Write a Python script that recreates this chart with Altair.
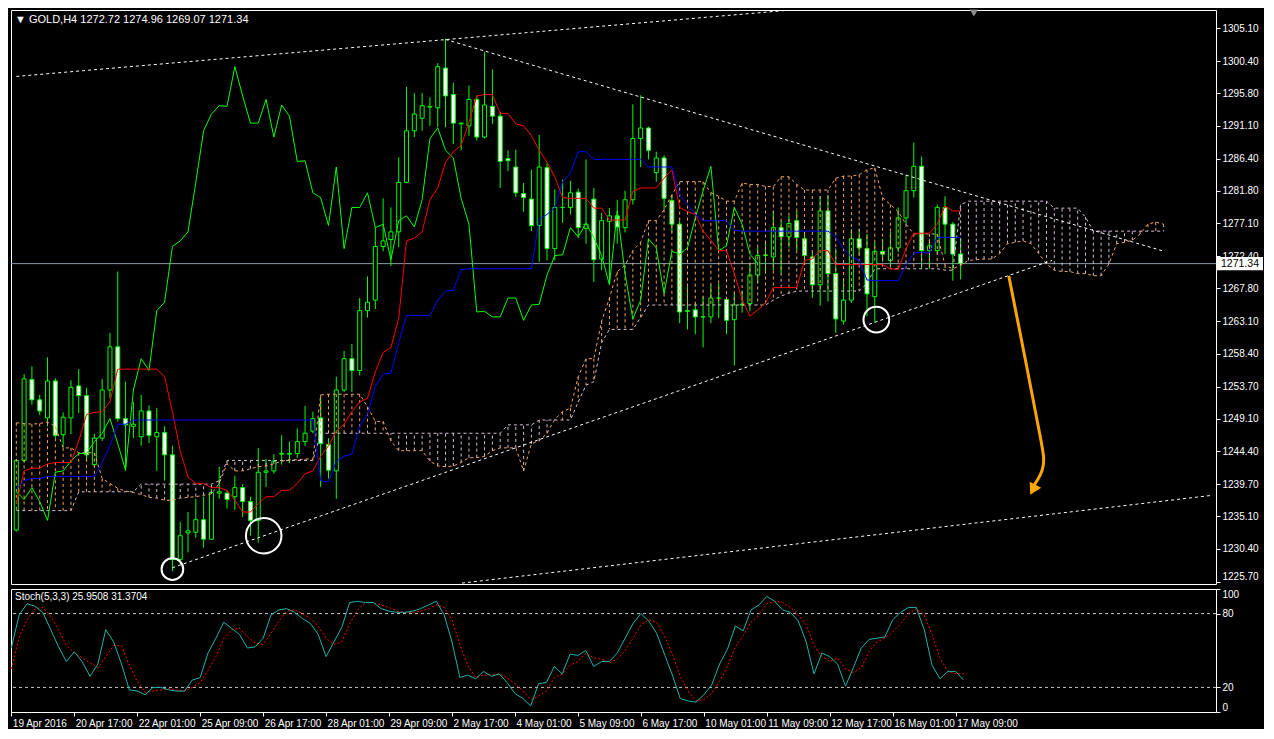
import altair as alt
import pandas as pd

# ---------------- data ----------------
open_ = [1233.1, 1243.1, 1254.7, 1251.8, 1249.2, 1254.5, 1246.8, 1249.2, 1253.8, 1252.4,
         1242.5, 1246.3, 1253.2, 1259.4, 1249.1, 1248.0, 1246.5, 1250.2, 1246.5, 1247.1,
         1243.9, 1228.9, 1232.7, 1232.8, 1234.6, 1231.8, 1238.4, 1238.4, 1237.9, 1239.2,
         1237.2, 1234.5, 1241.4, 1241.6, 1244.0, 1244.0, 1244.1, 1245.8, 1247.3, 1249.2,
         1245.4, 1241.6, 1253.2, 1257.7, 1256.0, 1264.6, 1266.1, 1273.8, 1274.8, 1275.9,
         1283.0, 1290.4, 1292.2, 1293.8, 1293.7, 1299.4, 1295.6, 1291.4, 1291.1, 1294.9,
         1289.5, 1293.9, 1292.5, 1286.4, 1285.2, 1281.4, 1280.6, 1276.8, 1285.1, 1273.5,
         1279.4, 1279.4, 1281.6, 1276.4, 1280.6, 1272.0, 1277.4, 1278.2, 1276.5, 1280.5,
         1289.3, 1290.8, 1284.4, 1286.5, 1280.4, 1277.0, 1264.6, 1264.7, 1263.7, 1263.7,
         1266.4, 1266.2, 1263.3, 1265.4, 1265.6, 1269.7, 1272.5, 1272.3, 1276.5, 1275.2,
         1277.5, 1274.9, 1272.3, 1268.3, 1278.9, 1269.9, 1263.1, 1266.1, 1274.9, 1273.5,
         1266.6, 1273.1, 1271.8, 1273.6, 1277.9, 1281.8, 1285.3, 1273.2, 1273.2, 1279.4,
         1277.0, 1272.72]
high_ = [1243.3, 1255.5, 1256.6, 1252.5, 1257.9, 1254.9, 1250.0, 1254.6, 1256.2, 1253.5,
         1246.9, 1254.8, 1261.4, 1270.2, 1254.4, 1251.5, 1252.5, 1251.0, 1250.6, 1248.0,
         1245.2, 1234.3, 1235.7, 1237.6, 1237.9, 1239.0, 1242.2, 1238.8, 1240.9, 1239.7,
         1237.9, 1244.9, 1243.3, 1244.0, 1246.7, 1245.8, 1247.7, 1250.9, 1250.1, 1252.1,
         1246.3, 1255.1, 1258.8, 1259.8, 1266.4, 1269.5, 1276.6, 1280.7, 1279.4, 1286.6,
         1296.7, 1295.8, 1295.8, 1295.2, 1300.1, 1303.6, 1297.3, 1291.6, 1296.9, 1295.5,
         1301.7, 1299.2, 1293.1, 1287.6, 1287.7, 1282.9, 1284.8, 1289.8, 1285.8, 1282.0,
         1283.4, 1283.2, 1282.1, 1286.3, 1282.2, 1278.6, 1279.3, 1280.5, 1281.8, 1294.2,
         1295.5, 1291.0, 1287.4, 1286.9, 1281.2, 1277.5, 1268.0, 1265.7, 1266.6, 1268.3,
         1268.5, 1266.6, 1267.1, 1267.5, 1271.3, 1273.7, 1274.6, 1278.9, 1277.5, 1278.2,
         1278.9, 1275.9, 1273.0, 1281.0, 1281.2, 1273.5, 1269.2, 1276.3, 1276.3, 1275.6,
         1274.4, 1274.9, 1275.9, 1279.4, 1284.1, 1288.7, 1286.7, 1274.9, 1279.8, 1281.0,
         1277.3, 1274.96]
low_ = [1232.9, 1242.8, 1251.1, 1249.6, 1248.0, 1246.3, 1245.0, 1246.9, 1249.9, 1243.0,
        1242.2, 1245.9, 1252.0, 1248.7, 1241.6, 1246.3, 1245.2, 1245.6, 1241.6, 1240.2,
        1227.2, 1228.2, 1229.9, 1232.0, 1230.6, 1231.7, 1237.6, 1236.2, 1236.0, 1235.0,
        1232.3, 1231.3, 1239.3, 1241.2, 1242.5, 1242.7, 1243.5, 1245.2, 1247.0, 1239.3,
        1240.5, 1237.6, 1252.9, 1252.9, 1255.3, 1263.6, 1264.8, 1273.1, 1271.0, 1273.7,
        1282.9, 1289.5, 1290.4, 1291.1, 1290.9, 1290.9, 1288.5, 1287.6, 1289.7, 1289.0,
        1289.3, 1291.4, 1282.2, 1284.6, 1280.9, 1278.8, 1276.0, 1271.6, 1271.8, 1271.8,
        1277.2, 1278.4, 1275.0, 1274.2, 1268.7, 1270.4, 1268.5, 1274.2, 1275.8, 1279.8,
        1285.2, 1286.3, 1283.1, 1279.1, 1275.8, 1262.8, 1261.9, 1261.2, 1259.3, 1262.8,
        1263.5, 1261.2, 1256.7, 1264.3, 1264.5, 1268.5, 1269.9, 1270.4, 1269.9, 1273.7,
        1273.2, 1271.6, 1266.4, 1265.3, 1265.9, 1261.4, 1262.6, 1265.7, 1272.5, 1263.8,
        1262.9, 1271.6, 1271.0, 1273.0, 1277.0, 1280.8, 1270.6, 1270.6, 1272.7, 1272.7,
        1268.9, 1269.07]
close_ = [1243.1, 1254.8, 1251.8, 1250.2, 1254.5, 1246.7, 1249.3, 1253.6, 1252.4, 1243.9,
          1246.3, 1253.2, 1259.4, 1249.1, 1248.2, 1248.3, 1250.2, 1246.7, 1247.1, 1243.9,
          1228.9, 1232.3, 1233.0, 1234.6, 1231.8, 1238.5, 1238.6, 1237.5, 1239.2, 1237.2,
          1234.5, 1241.4, 1241.6, 1243.0, 1244.1, 1244.1, 1245.8, 1247.0, 1249.1, 1245.5,
          1241.7, 1253.2, 1257.7, 1256.0, 1264.6, 1265.8, 1273.8, 1274.6, 1275.9, 1283.0,
          1290.4, 1292.8, 1294.0, 1293.9, 1299.6, 1295.4, 1291.5, 1291.5, 1294.9, 1289.5,
          1294.1, 1292.5, 1286.0, 1286.1, 1281.5, 1280.8, 1276.8, 1285.2, 1273.5, 1279.4,
          1279.4, 1281.5, 1276.5, 1277.0, 1271.9, 1277.5, 1278.2, 1276.6, 1280.5, 1289.3,
          1290.8, 1287.6, 1286.5, 1280.7, 1277.0, 1264.4, 1264.5, 1263.7, 1263.7, 1266.4,
          1266.4, 1263.2, 1265.4, 1265.5, 1269.7, 1272.5, 1272.6, 1276.5, 1275.2, 1277.1,
          1275.1, 1272.5, 1268.3, 1278.9, 1269.9, 1263.4, 1266.1, 1274.9, 1273.6, 1267.0,
          1273.1, 1272.7, 1273.6, 1277.9, 1281.8, 1285.3, 1273.2, 1273.9, 1279.4, 1277.0,
          1272.7, 1271.34]

tenkan = [1236.9, 1241.6, 1242.0, 1242.0, 1242.6, 1242.8, 1242.8, 1242.8, 1245.9, 1249.7,
          1250.0, 1250.1, 1251.5, 1256.2, 1256.2, 1256.2, 1256.2, 1256.2, 1256.2, 1255.1,
          1250.1, 1244.5, 1240.7, 1239.8, 1239.8, 1239.2, 1239.2, 1238.8, 1237.4, 1235.7,
          1235.7, 1236.9, 1237.9, 1237.9, 1238.8, 1238.8, 1239.8, 1241.2, 1241.6, 1243.7,
          1245.2, 1247.3, 1248.3, 1250.1, 1251.5, 1252.0, 1255.8, 1258.6, 1259.3, 1263.5,
          1274.6, 1275.0, 1275.9, 1280.5, 1282.2, 1285.9, 1287.4, 1288.3, 1291.6, 1295.4,
          1295.6, 1295.6, 1292.9, 1292.9, 1291.4, 1291.1, 1289.7, 1287.6, 1285.9, 1283.8,
          1280.8, 1280.7, 1280.7, 1280.7, 1279.3, 1279.3, 1277.6, 1277.6, 1277.6, 1281.7,
          1282.2, 1282.2, 1282.2, 1283.6, 1284.8, 1279.4, 1278.8, 1278.4, 1276.0, 1274.7,
          1273.2, 1273.2, 1269.9, 1266.2, 1263.8, 1264.7, 1265.7, 1267.9, 1267.9, 1267.9,
          1267.9, 1271.8, 1272.0, 1273.2, 1273.2, 1271.2, 1271.2, 1271.2, 1271.2, 1271.2,
          1271.2, 1271.2, 1270.6, 1270.5, 1273.5, 1275.7, 1275.7, 1275.7, 1277.0, 1279.6,
          1278.9, 1278.9]
kijun = [1239.0, 1240.2, 1240.5, 1240.5, 1240.8, 1240.8, 1240.8, 1240.8, 1240.8, 1240.8,
         1240.8, 1242.8, 1245.2, 1248.3, 1248.3, 1248.9, 1248.9, 1248.9, 1248.9, 1248.9,
         1248.9, 1248.9, 1248.9, 1248.9, 1248.9, 1248.9, 1248.9, 1248.9, 1248.9, 1248.9,
         1248.9, 1248.9, 1248.9, 1248.9, 1248.9, 1248.9, 1248.9, 1248.9, 1248.9, 1240.2,
         1240.0, 1243.0, 1243.7, 1244.0, 1248.0, 1249.7, 1253.7, 1255.5, 1255.6, 1260.0,
         1263.9, 1263.9, 1263.9, 1263.9, 1266.1, 1267.4, 1267.5, 1270.5, 1270.6, 1270.6,
         1270.6, 1270.6, 1270.6, 1270.6, 1270.6, 1270.6, 1270.6, 1277.7, 1278.4, 1279.4,
         1283.1, 1284.3, 1287.4, 1287.4, 1286.3, 1286.3, 1286.3, 1286.3, 1286.3, 1286.3,
         1286.3, 1285.2, 1285.2, 1285.2, 1285.2, 1281.2, 1279.8, 1278.4, 1277.5, 1277.5,
         1277.5, 1277.5, 1276.1, 1276.0, 1276.0, 1276.0, 1276.0, 1276.0, 1276.0, 1276.0,
         1276.0, 1276.0, 1276.0, 1276.0, 1276.0, 1275.2, 1273.5, 1272.3, 1271.8, 1269.0,
         1268.9, 1268.9, 1268.9, 1268.9, 1271.1, 1272.9, 1272.9, 1272.9, 1275.1, 1275.1,
         1275.1, 1275.1]
senkou_a = [1248.5, 1248.4, 1248.3, 1248.4, 1248.6, 1248.0, 1244.9, 1244.9, 1244.2, 1244.2,
            1244.2, 1240.5, 1239.8, 1239.1, 1238.7, 1238.5, 1238.2, 1237.8, 1237.7, 1237.4,
            1237.4, 1237.7, 1237.8, 1237.9, 1238.1, 1238.3, 1239.8, 1242.6, 1241.6, 1241.6,
            1241.9, 1242.2, 1242.3, 1242.6, 1243.0, 1243.2, 1243.2, 1243.3, 1243.3, 1252.5,
            1252.6, 1252.6, 1252.6, 1252.6, 1252.6, 1250.8, 1248.7, 1248.7, 1245.9, 1244.5,
            1244.5, 1244.5, 1244.5, 1243.0, 1242.3, 1242.2, 1242.3, 1242.8, 1243.5, 1243.5,
            1243.7, 1244.5, 1244.9, 1244.9, 1244.9, 1241.6, 1245.5, 1245.9, 1247.0, 1249.0,
            1250.1, 1250.6, 1255.1, 1257.7, 1257.7, 1263.1, 1266.4, 1270.2, 1271.1, 1273.2,
            1274.4, 1277.5, 1277.5, 1279.1, 1281.2, 1283.1, 1283.1, 1283.1, 1283.1, 1281.5,
            1281.0, 1280.3, 1280.3, 1282.9, 1282.7, 1282.7, 1282.4, 1282.4, 1283.8, 1283.8,
            1282.7, 1281.9, 1281.9, 1281.9, 1281.9, 1283.6, 1283.9, 1283.9, 1284.1, 1284.8,
            1285.1, 1280.8, 1279.8, 1278.8, 1277.0, 1275.6, 1275.6, 1275.6, 1275.6, 1271.1,
            1270.6, 1271.1, 1271.8, 1271.9, 1272.0, 1272.0, 1272.8, 1274.2, 1274.4, 1274.6,
            1274.2, 1272.8, 1271.3, 1270.4, 1270.2, 1270.2, 1269.9, 1269.9, 1269.6, 1269.6,
            1271.3, 1274.2, 1274.4, 1274.7, 1275.6, 1277.0, 1277.3, 1277.0]
senkou_b = [1235.9, 1235.9, 1235.9, 1235.9, 1235.9, 1235.9, 1235.9, 1235.9, 1238.6, 1238.6,
            1238.6, 1238.6, 1238.6, 1238.6, 1238.6, 1238.6, 1239.7, 1239.7, 1239.7, 1239.7,
            1239.7, 1239.7, 1239.7, 1239.7, 1239.7, 1239.7, 1240.2, 1243.1, 1243.1, 1243.1,
            1243.1, 1243.1, 1243.1, 1243.1, 1243.1, 1243.1, 1243.1, 1243.1, 1243.1, 1247.0,
            1247.0, 1247.0, 1247.0, 1247.0, 1247.0, 1247.0, 1247.0, 1247.0, 1247.0, 1247.0,
            1247.0, 1247.0, 1247.0, 1247.0, 1247.0, 1247.0, 1247.0, 1247.0, 1247.0, 1247.0,
            1247.0, 1247.0, 1247.0, 1248.2, 1248.2, 1248.2, 1248.2, 1248.9, 1248.9, 1248.9,
            1248.9, 1248.9, 1251.5, 1253.9, 1254.4, 1260.0, 1261.9, 1261.9, 1261.9, 1261.9,
            1263.6, 1265.4, 1265.4, 1265.4, 1265.4, 1265.4, 1265.4, 1265.4, 1265.4, 1265.4,
            1265.4, 1265.4, 1265.4, 1265.4, 1265.4, 1265.4, 1265.4, 1266.1, 1266.7, 1267.1,
            1267.4, 1267.4, 1267.4, 1267.4, 1267.4, 1267.4, 1267.4, 1267.4, 1267.4, 1268.5,
            1270.6, 1270.6, 1270.6, 1270.6, 1270.6, 1270.6, 1270.6, 1270.6, 1270.6, 1270.4,
            1270.4, 1279.8, 1280.3, 1280.3, 1280.3, 1280.3, 1280.3, 1280.3, 1280.3, 1280.3,
            1280.3, 1280.3, 1280.3, 1279.3, 1279.3, 1279.3, 1279.3, 1278.0, 1276.0, 1276.0,
            1276.0, 1276.0, 1276.0, 1276.0, 1276.0, 1276.0, 1276.0, 1276.0]

stoch_k = [52, 79, 88, 86, 81, 67, 53, 41, 49, 41, 29, 39, 67, 57, 39, 18, 17, 14, 20, 20,
           18, 17, 17, 26, 28, 48, 60, 73, 68, 63, 52, 53, 60, 79, 83, 84, 81, 76, 72, 63,
           45, 57, 69, 89, 90, 89, 89, 84, 82, 81, 81, 82, 84, 87, 90, 79, 57, 28, 30, 27,
           33, 29, 31, 24, 15, 11, 5, 23, 24, 37, 31, 47, 46, 50, 37, 41, 41, 48, 60, 72,
           80, 74, 64, 47, 30, 11, 9, 8, 14, 22, 39, 51, 70, 66, 83, 87, 94, 90, 83, 81,
           74, 57, 31, 48, 45, 39, 21, 36, 52, 59, 60, 61, 75, 81, 85, 85, 67, 38, 27, 33,
           33, 25.95]
stoch_d = [35, 61, 75, 84, 85, 78, 67, 54, 48, 44, 40, 36, 45, 54, 54, 38, 25, 16, 17, 18,
           19, 18, 17, 20, 24, 34, 45, 60, 67, 68, 61, 56, 55, 64, 74, 82, 83, 80, 76, 70,
           60, 55, 57, 72, 83, 89, 89, 87, 85, 82, 81, 81, 82, 84, 87, 85, 75, 55, 38, 28,
           30, 30, 31, 28, 23, 17, 10, 13, 17, 28, 31, 38, 41, 48, 44, 43, 40, 43, 50, 60,
           71, 75, 73, 62, 47, 29, 17, 9, 10, 15, 25, 37, 53, 62, 73, 79, 88, 90, 89, 85,
           79, 71, 54, 45, 41, 44, 35, 32, 36, 49, 57, 60, 65, 72, 80, 84, 79, 63, 44, 33,
           31, 31.37]

price_ticks = [1225.70, 1230.40, 1235.10, 1239.70, 1244.40, 1249.10, 1253.70, 1258.40, 1263.10,
               1267.80, 1272.40, 1277.10, 1281.80, 1286.40, 1291.10, 1295.80, 1300.40, 1305.10]
date_labels = ["19 Apr 2016", "20 Apr 17:00", "22 Apr 01:00", "25 Apr 09:00", "26 Apr 17:00",
               "28 Apr 01:00", "29 Apr 09:00", "2 May 17:00", "4 May 01:00", "5 May 09:00",
               "6 May 17:00", "10 May 01:00", "11 May 09:00", "12 May 17:00", "16 May 01:00",
               "17 May 09:00"]
stoch_ticks = [0, 20, 80, 100]
stoch_levels = [20, 80]

# drawn objects (bar index, price)
trend_names = ["top", "top", "resist", "resist", "support", "support", "low", "low"]
trend_bars = [0.0, 100.0, 55.0, 146.8, 20.0, 132.7, 57.1, 153.3]
trend_prices = [1298.2, 1307.8, 1303.5, 1273.2, 1227.7, 1271.8, 1225.5, 1238.1]
circle_bars = [20.0, 31.7, 110.2]
circle_prices = [1227.5, 1232.3, 1263.3]
arrow_bars = [127.2, 129.3, 131.3, 131.75, 131.5, 130.9, 130.5]
arrow_prices = [1269.4, 1257.6, 1245.9, 1243.4, 1241.6, 1240.4, 1239.7]
arrow_tip_bar = [130.25]
arrow_tip_price = [1238.9]
shift_bar = [122.7]
title_text = "\u25bc GOLD,H4  1272.72 1274.96 1269.07 1271.34"
stoch_text = "Stoch(5,3,3) 25.9508 31.3704"

# ---------------- styling ----------------
W = 1205
H_MAIN = 574
H_STOCH = 123
FONT = "Liberation Sans"
LIME = "#00FF00"
SANDY = "#F4A460"
THISTLE = "#D8BFD8"
ORANGE = "#FFA500"
X_DOMAIN = [-0.04, 153.08]
Y_DOMAIN = [1225.37, 1307.73]

n = len(close_)
candles = pd.DataFrame({"bar": list(range(n)), "open": open_, "high": high_,
                        "low": low_, "close": close_})
candles["dir"] = ["bull" if c >= o else "bear" for o, c in zip(open_, close_)]
ind = pd.DataFrame({"bar": list(range(n)), "tenkan": tenkan, "kijun": kijun})
cloud = pd.DataFrame({"bar": list(range(len(senkou_a))), "a": senkou_a, "b": senkou_b})
cloud["hatch"] = [SANDY if a >= b else THISTLE for a, b in zip(senkou_a, senkou_b)]
chikou = pd.DataFrame({"bar": [i - 26 for i in range(26, n)], "price": close_[26:]})
trend = pd.DataFrame({"line": trend_names, "bar": trend_bars, "price": trend_prices})
circles = pd.DataFrame({"bar": circle_bars, "price": circle_prices})
arrow = pd.DataFrame({"seq": list(range(len(arrow_bars))), "bar": arrow_bars, "price": arrow_prices})
tip = pd.DataFrame({"bar": arrow_tip_bar, "price": arrow_tip_price})
last = pd.DataFrame({"price": [close_[-1]], "label": [f"{close_[-1]:.2f}"]})
stoch = pd.DataFrame({"bar": list(range(n)), "k": stoch_k, "d": stoch_d})

xs = alt.Scale(domain=X_DOMAIN, nice=False, zero=False)
ys = alt.Scale(domain=Y_DOMAIN, nice=False, zero=False)
price_axis = alt.Axis(values=price_ticks, format=".2f", orient="right", labelColor="white",
                      tickColor="white", tickSize=4, domain=False, grid=False, labelFont=FONT,
                      labelFontSize=10, title=None, labelPadding=2, labelFlush=5)


def X(f):
    return alt.X(f, type="quantitative", scale=xs, axis=None)


def Y(f):
    return alt.Y(f, type="quantitative", scale=ys, axis=price_axis)


layers = []
layers.append(alt.Chart(last).mark_rule(color="#8899AA", strokeWidth=1).encode(y=Y("price")))
layers.append(alt.Chart(candles).mark_rule(color=LIME, strokeWidth=1, clip=True)
              .encode(x=X("bar"), y=Y("low"), y2="high"))
layers.append(alt.Chart(candles).mark_bar(size=4, stroke=LIME, strokeWidth=1, clip=True)
              .encode(x=X("bar"), y=Y("open"), y2="close",
                      fill=alt.Fill("dir:N", scale=alt.Scale(domain=["bull", "bear"],
                                                             range=["#000000", "#FFFFFF"]),
                                    legend=None)))
layers.append(alt.Chart(cloud).mark_rule(strokeDash=[3, 3], strokeWidth=1, clip=True)
              .encode(x=X("bar"), y=Y("a"), y2="b", color=alt.Color("hatch:N", scale=None)))
layers.append(alt.Chart(cloud).mark_line(color=SANDY, strokeDash=[3, 3], strokeWidth=1, clip=True)
              .encode(x=X("bar"), y=Y("a")))
layers.append(alt.Chart(cloud).mark_line(color=THISTLE, strokeDash=[3, 3], strokeWidth=1, clip=True)
              .encode(x=X("bar"), y=Y("b")))
layers.append(alt.Chart(chikou).mark_line(color=LIME, strokeWidth=1, clip=True)
              .encode(x=X("bar"), y=Y("price")))
layers.append(alt.Chart(ind).mark_line(color="#FF0000", strokeWidth=1, clip=True)
              .encode(x=X("bar"), y=Y("tenkan")))
layers.append(alt.Chart(ind).mark_line(color="#0000FF", strokeWidth=1, clip=True)
              .encode(x=X("bar"), y=Y("kijun")))
layers.append(alt.Chart(trend).mark_line(color="white", strokeDash=[3, 3], strokeWidth=1, clip=True)
              .encode(x=X("bar"), y=Y("price"), detail="line:N"))
for i, sz in enumerate([470, 1260, 660]):
    layers.append(alt.Chart(circles.iloc[[i]]).mark_point(shape="circle", filled=False, color="white",
                                                          strokeWidth=2, opacity=1, size=sz)
                  .encode(x=X("bar"), y=Y("price")))
layers.append(alt.Chart(arrow).mark_line(color=ORANGE, strokeWidth=3, strokeCap="round",
                                         strokeJoin="round", interpolate="basis")
              .encode(x=X("bar"), y=Y("price"), order="seq:Q"))
layers.append(alt.Chart(tip).mark_point(shape="triangle-down", filled=True, color=ORANGE,
                                        size=170, angle=28, opacity=1)
              .encode(x=X("bar"), y=Y("price")))
layers.append(alt.Chart(pd.DataFrame({"bar": shift_bar})).mark_point(
    shape="triangle-down", filled=True, color="#8A8A8A", size=70, opacity=1)
    .encode(x=X("bar"), y=alt.value(3)))
layers.append(alt.Chart(last).mark_point(
    shape="M-1,-0.29L1,-0.29L1,0.29L-1,0.29Z", filled=True, color="white", size=2116, opacity=1)
    .encode(x=alt.value(W + 24), y=Y("price")))
layers.append(alt.Chart(last).mark_text(color="black", font=FONT, fontSize=10.5, align="center",
                                        baseline="middle")
              .encode(x=alt.value(W + 24), y=Y("price"), text="label:N"))
layers.append(alt.Chart(pd.DataFrame({"t": [title_text]})).mark_text(
    color="white", font=FONT, fontSize=11, align="left", baseline="middle")
    .encode(x=alt.value(4), y=alt.value(10), text="t:N"))

main = alt.layer(*layers).properties(width=W, height=H_MAIN)

label_expr = "[" + ",".join(f"'{s}'" for s in date_labels) + "][round(datum.value/8)]"
date_axis = alt.Axis(values=list(range(0, 8 * len(date_labels), 8)), labelExpr=label_expr,
                     labelAlign="left", labelColor="white", tickColor="white", tickSize=4,
                     domain=False, grid=False, labelFont=FONT, labelFontSize=10, title=None,
                     labelPadding=2, labelFlush=False, labelOverlap=False, labelOffset=1)
stoch_axis = alt.Axis(values=stoch_ticks, orient="right", labelColor="white", tickColor="white",
                      tickSize=4, domain=False, grid=False, labelFont=FONT, labelFontSize=10,
                      title=None, labelPadding=2, labelFlush=True)
sy = alt.Scale(domain=[0, 100], nice=False, zero=False)

st_layers = [
    alt.Chart(pd.DataFrame({"lvl": stoch_levels})).mark_rule(color="#C8C8C8", strokeDash=[3, 3],
                                                            strokeWidth=1)
    .encode(y=alt.Y("lvl:Q", scale=sy, axis=stoch_axis)),
    alt.Chart(stoch).mark_line(color="#FF0000", strokeDash=[2, 2], strokeWidth=1)
    .encode(x=alt.X("bar:Q", scale=xs, axis=date_axis), y=alt.Y("d:Q", scale=sy, axis=stoch_axis)),
    alt.Chart(stoch).mark_line(color="#20B2AA", strokeWidth=1)
    .encode(x=alt.X("bar:Q", scale=xs, axis=date_axis), y=alt.Y("k:Q", scale=sy, axis=stoch_axis)),
    alt.Chart(pd.DataFrame({"t": [stoch_text]})).mark_text(
        color="white", font=FONT, fontSize=10, align="left", baseline="middle")
    .encode(x=alt.value(4), y=alt.value(8), text="t:N"),
]
stoch_chart = alt.layer(*st_layers).properties(width=W, height=H_STOCH)

chart = (alt.vconcat(main, stoch_chart, spacing=3)
         .properties(padding=0)
         .configure(background="#000000")
         .configure_view(stroke="white", strokeWidth=1, fill="#000000"))

chart.save("out.html", embed_options={"renderer": "svg", "actions": False})
